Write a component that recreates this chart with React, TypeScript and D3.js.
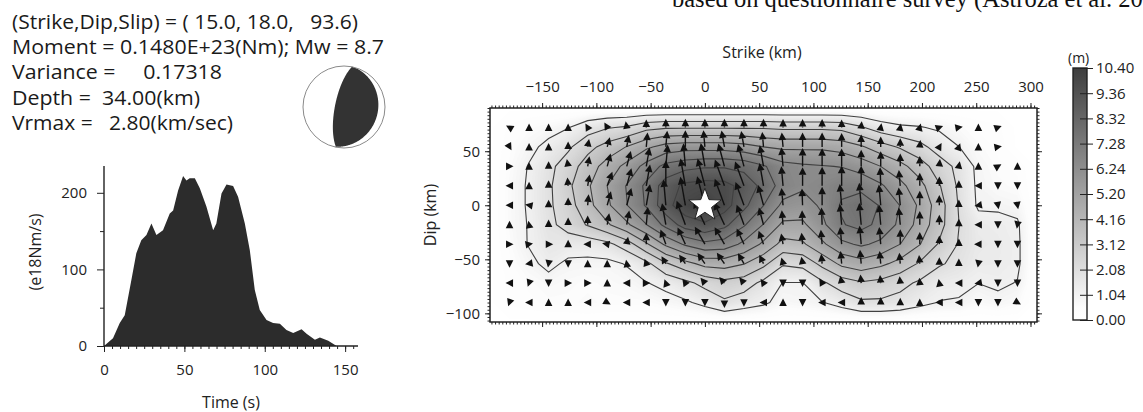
'use client'
import { useEffect, useRef } from 'react';
import * as d3 from 'd3';

// source summary
const faultAngles = [15.0, 18.0, 93.6]; // strike, dip, rake (deg)
const infoLines = [
  '(Strike,Dip,Slip) = ( 15.0, 18.0,   93.6)',
  'Moment = 0.1480E+23(Nm); Mw = 8.7',
  'Variance =     0.17318',
  'Depth =  34.00(km)',
  'Vrmax =   2.80(km/sec)',
];

// moment rate function
const stfTime = [0, 5.6, 9.8, 12.9, 17.0, 20.1, 23.2, 26.4, 29.5, 32.6, 36.7, 40.9, 43.0, 46.1, 49.2, 51.3, 53.3, 56.5, 59.6, 63.7, 67.9, 69.9, 73.1, 76.2, 80.3, 83.4, 87.6, 90.7, 93.8, 96.9, 101.1, 105.2, 109.4, 113.5, 117.7, 122.9, 126.0, 131.2, 134.3, 139.5, 144.7];
const stfRate = [0, 10, 30, 40, 86, 121, 138, 145, 160, 145, 151, 173, 177, 203, 222, 216, 219, 219, 206, 182, 151, 160, 199, 211, 209, 195, 160, 125, 73, 47, 34, 30, 29, 21, 17, 22, 16, 8, 11, 7, 0];
const stfTicks = [0, 50, 100, 150];
const rateTicks = [0, 100, 200];

// subfault centres (km)
const strikeKm = [-180, -162, -144, -126, -108, -90, -72, -54, -36, -18, 0, 18, 36, 54, 72, 90, 108, 126, 144, 162, 180, 198, 216, 234, 252, 270, 288];
const dipKm = [72, 54, 36, 18, 0, -18, -36, -54, -72, -90];
const hypocenter = [0, 0];

// slip (m), one row per dip level
const slipRows = [
  [0.3, 0.5, 0.7, 1.0, 1.6, 2.0, 2.2, 2.8, 3.0, 3.0, 3.0, 3.0, 3.0, 3.0, 2.9, 2.9, 2.9, 2.8, 2.2, 1.5, 1.2, 1.1, 0.9, 0.6, 0.4, 0.3, 0.0],
  [0.4, 0.8, 1.3, 1.9, 2.8, 3.5, 4.2, 5.0, 5.6, 5.8, 5.8, 5.8, 5.6, 5.2, 5.0, 5.0, 5.0, 4.8, 4.3, 3.6, 3.0, 2.4, 1.6, 1.05, 0.6, 0.4, 0.0],
  [0.5, 1.1, 1.8, 2.6, 3.6, 4.6, 5.5, 6.6, 7.6, 8.0, 8.2, 8.2, 8.0, 7.4, 6.6, 6.4, 6.3, 6.2, 5.8, 5.2, 4.5, 3.6, 2.6, 1.8, 0.8, 0.5, 0.4],
  [0.6, 1.15, 1.9, 2.9, 4.0, 5.2, 6.3, 7.5, 8.8, 9.6, 9.8, 9.7, 9.0, 8.0, 6.8, 6.4, 6.6, 7.0, 7.0, 6.4, 5.5, 4.5, 3.2, 1.9, 0.85, 0.6, 0.5],
  [0.6, 1.15, 1.9, 2.7, 3.8, 5.0, 6.2, 7.4, 9.0, 10.0, 10.4, 9.8, 8.6, 7.3, 6.0, 5.8, 6.4, 7.4, 7.8, 7.2, 6.2, 5.0, 3.6, 2.0, 0.9, 0.9, 0.8],
  [0.6, 1.1, 1.8, 2.5, 3.2, 4.0, 5.0, 6.2, 7.6, 8.8, 9.2, 8.6, 7.4, 6.2, 5.0, 5.0, 6.0, 7.2, 7.6, 7.0, 6.0, 4.8, 3.5, 2.1, 1.4, 1.3, 1.15],
  [0.5, 1.1, 1.6, 1.5, 1.5, 1.8, 2.6, 4.0, 5.4, 6.4, 7.0, 6.8, 6.0, 5.0, 3.8, 4.0, 5.0, 6.0, 6.4, 6.0, 5.2, 4.2, 3.0, 2.0, 1.5, 1.4, 1.2],
  [0.4, 0.8, 1.3, 0.85, 0.8, 0.8, 1.1, 1.8, 3.0, 3.8, 4.5, 4.6, 4.2, 3.4, 2.2, 2.4, 3.4, 4.4, 4.8, 4.4, 3.8, 3.0, 2.2, 1.8, 1.4, 1.35, 1.2],
  [0.3, 0.5, 0.7, 0.6, 0.5, 0.6, 0.7, 1.0, 1.3, 1.8, 2.4, 2.8, 2.6, 1.8, 1.0, 1.0, 1.9, 2.6, 3.0, 2.8, 2.4, 1.9, 1.4, 1.3, 1.05, 1.2, 1.0],
  [0.3, 0.4, 0.5, 0.5, 0.6, 0.5, 0.5, 0.5, 0.7, 0.9, 1.3, 1.9, 1.5, 1.2, 0.7, 0.8, 1.0, 1.4, 1.9, 1.9, 1.7, 1.3, 1.0, 0.95, 0.6, 0.8, 0.6],
];

// rake of each subfault (deg, 90 = up-dip)
const rakeRows = [
  [150, 90, 90, 90, 120, 120, 100, 90, 90, 90, 90, 90, 90, 90, 90, 90, 90, 90, 85, 80, 80, 75, 20, 10, 90, 20, 90],
  [300, 90, 90, 90, 80, 75, 80, 85, 85, 90, 95, 100, 100, 95, 95, 90, 90, 90, 90, 90, 90, 85, 60, 70, 90, 10, 90],
  [0, 90, 90, 100, 80, 75, 75, 80, 85, 95, 100, 105, 105, 100, 95, 90, 90, 90, 90, 90, 90, 90, 85, 80, 90, 30, 90],
  [180, 90, 90, 95, 80, 70, 75, 80, 90, 100, 105, 110, 110, 100, 95, 90, 90, 90, 90, 92, 95, 90, 90, 90, 180, 270, 270],
  [180, 170, 90, 90, 85, 75, 75, 80, 95, 100, 105, 110, 110, 105, 95, 92, 90, 95, 95, 95, 95, 90, 90, 90, 190, 280, 280],
  [90, 100, 90, 90, 90, 80, 80, 85, 100, 110, 115, 115, 110, 105, 95, 92, 92, 95, 95, 95, 95, 90, 90, 90, 180, 270, 260],
  [0, 10, 0, 90, 180, 170, 80, 90, 110, 115, 120, 120, 115, 110, 100, 95, 95, 95, 95, 95, 90, 90, 90, 90, 180, 270, 270],
  [270, 190, 260, 270, 90, 90, 100, 110, 120, 125, 125, 125, 120, 115, 105, 100, 95, 95, 95, 95, 95, 95, 90, 90, 260, 270, 270],
  [180, 250, 270, 0, 0, 90, 180, 0, 110, 125, 130, 130, 130, 125, 270, 270, 120, 100, 95, 95, 95, 95, 100, 180, 190, 270, 270],
  [250, 180, 90, 90, 180, 330, 180, 180, 270, 270, 270, 270, 270, 180, 90, 270, 180, 180, 90, 90, 90, 90, 180, 180, 270, 270, 330],
];

const strikeTicks = [-150, -100, -50, 0, 50, 100, 150, 200, 250, 300];
const dipTicks = [-100, -50, 0, 50];
const slipLevels = [0, 1.04, 2.08, 3.12, 4.16, 5.20, 6.24, 7.28, 8.32, 9.36, 10.40];

const FONT = "'Open Sans', 'DejaVu Sans', sans-serif";

const App = () => {
  const ref = useRef<SVGSVGElement>(null);

  useEffect(() => {
    const svg = d3.select(ref.current);
    svg.selectAll('*').remove();
    const defs = svg.append('defs');

    // header text, cut off at the top like the page it came from
    svg.append('text')
      .attr('x', 672).attr('y', 7)
      .attr('font-family', "'Liberation Serif', 'Times New Roman', serif")
      .attr('font-size', 24.5).attr('fill', '#111')
      .text('based on questionnaire survey (Astroza et al. 20');

    // info text
    const infoWidths = [346, 372, 210, 188, 221];
    infoLines.forEach((s, i) => {
      svg.append('text')
        .attr('x', 12).attr('y', 29 + i * 25.2)
        .attr('font-family', FONT).attr('font-size', 20).attr('fill', '#1a1a1a')
        .attr('textLength', infoWidths[i]).attr('lengthAdjust', 'spacingAndGlyphs')
        .style('white-space', 'pre')
        .text(s);
    });

    // beach ball from strike/dip/rake (lower hemisphere, equal area)
    const [stk, dp, rk] = faultAngles.map(v => v * Math.PI / 180);
    const nrm = [-Math.sin(dp) * Math.sin(stk), Math.sin(dp) * Math.cos(stk), -Math.cos(dp)];
    const slp = [
      Math.cos(rk) * Math.cos(stk) + Math.sin(rk) * Math.cos(dp) * Math.sin(stk),
      Math.cos(rk) * Math.sin(stk) - Math.sin(rk) * Math.cos(dp) * Math.cos(stk),
      -Math.sin(rk) * Math.sin(dp),
    ];
    const N = 151;
    const amp = new Array(N * N);
    for (let j = 0; j < N; j++) {
      for (let i = 0; i < N; i++) {
        const px = (i + 0.5) / N * 2 - 1;
        const py = 1 - (j + 0.5) / N * 2;
        const r = Math.min(Math.hypot(px, py), 1);
        const inc = 2 * Math.asin(r / Math.SQRT2);
        const az = Math.atan2(px, py);
        const g = [Math.sin(inc) * Math.cos(az), Math.sin(inc) * Math.sin(az), Math.cos(inc)];
        const a = nrm[0] * g[0] + nrm[1] * g[1] + nrm[2] * g[2];
        const b = slp[0] * g[0] + slp[1] * g[1] + slp[2] * g[2];
        amp[j * N + i] = 2 * a * b;
      }
    }
    const bx = 344, by = 107, br = 41;
    defs.append('clipPath').attr('id', 'ballclip')
      .append('circle').attr('cx', bx).attr('cy', by).attr('r', br);
    const ballPath = d3.geoPath(d3.geoTransform({
      point(x, y) { this.stream.point(bx - br + x / N * 2 * br, by - br + y / N * 2 * br); },
    }));
    const comp = d3.contours().size([N, N]).thresholds([0])(amp);
    svg.append('circle').attr('cx', bx).attr('cy', by).attr('r', br).attr('fill', '#fff');
    svg.append('g').attr('clip-path', 'url(#ballclip)')
      .selectAll('path').data(comp).join('path')
      .attr('d', ballPath).attr('fill', '#333');
    svg.append('circle').attr('cx', bx).attr('cy', by).attr('r', br)
      .attr('fill', 'none').attr('stroke', '#8a8a8a').attr('stroke-width', 1);

    // moment rate function
    const xT = d3.scaleLinear().domain([0, 158]).range([104, 358]);
    const yR = d3.scaleLinear().domain([0, 235]).range([346, 166]);
    const area = d3.area<number>()
      .x((_, i) => xT(stfTime[i]))
      .y0(yR(0))
      .y1(d => yR(d));
    svg.append('path').datum(stfRate).attr('d', area).attr('fill', '#2c2c2c');

    const styleAxis = (g) => {
      g.select('.domain').remove();
      g.selectAll('line').attr('stroke', '#222').attr('stroke-width', 1);
      g.selectAll('text').attr('font-family', FONT).attr('font-size', 15).attr('fill', '#222');
    };

    svg.append('g').attr('transform', `translate(0,${yR(0)})`)
      .call(d3.axisBottom(xT).tickValues(d3.range(0, 158, 5)).tickSize(3).tickFormat(() => ''))
      .call(styleAxis);
    svg.append('g').attr('transform', `translate(0,${yR(0)})`)
      .call(d3.axisBottom(xT).tickValues(stfTicks).tickSize(6).tickPadding(12).tickFormat(d3.format('d')))
      .call(styleAxis);
    svg.append('g').attr('transform', `translate(${xT(0)},0)`)
      .call(d3.axisLeft(yR).tickValues([50, 150]).tickSize(4).tickFormat(() => ''))
      .call(styleAxis);
    svg.append('g').attr('transform', `translate(${xT(0)},0)`)
      .call(d3.axisLeft(yR).tickValues(rateTicks).tickSize(7).tickPadding(10).tickFormat(d3.format('d')))
      .call(styleAxis);
    svg.append('line').attr('x1', xT(0)).attr('x2', xT(0)).attr('y1', yR(0)).attr('y2', yR(235))
      .attr('stroke', '#222').attr('stroke-width', 1.4);
    svg.append('line').attr('x1', xT(0)).attr('x2', xT(158)).attr('y1', yR(0)).attr('y2', yR(0))
      .attr('stroke', '#222').attr('stroke-width', 1.4);
    svg.append('text').attr('x', 231).attr('y', 408).attr('text-anchor', 'middle')
      .attr('font-family', FONT).attr('font-size', 16).attr('fill', '#222').text('Time (s)');
    svg.append('text').attr('transform', 'translate(41,252) rotate(-90)').attr('text-anchor', 'middle')
      .attr('font-family', FONT).attr('font-size', 16).attr('fill', '#222').text('(e18Nm/s)');

    // slip map
    const step = strikeKm[1] - strikeKm[0];
    const dstep = dipKm[0] - dipKm[1];
    const xMin = strikeKm[0] - step, xMax = strikeKm[strikeKm.length - 1] + step;
    const yMax = dipKm[0] + dstep, yMin = dipKm[dipKm.length - 1] - dstep;
    const xS = d3.scaleLinear().domain([xMin, xMax]).range([490, 1037]);
    const yS = d3.scaleLinear().domain([yMin, yMax]).range([322, 108]);

    const nx = strikeKm.length, ny = dipKm.length;
    const W = nx + 2, H = ny + 2;
    const grid = new Array(W * H).fill(0);
    slipRows.forEach((row, j) => row.forEach((v, i) => { grid[(j + 1) * W + i + 1] = v; }));
    const gridPath = d3.geoPath(d3.geoTransform({
      point(x, y) { this.stream.point(xS(xMin + step * (x - 0.5)), yS(yMax - dstep * (y - 0.5))); },
    }));

    const maxSlip = slipLevels[slipLevels.length - 1];
    const color = d3.scaleLinear<string>().domain([0, 0.5, maxSlip]).range(['#ffffff', '#fcfcfc', '#3e3e3e']);

    defs.append('clipPath').attr('id', 'mapclip')
      .append('rect').attr('x', xS(xMin)).attr('y', yS(yMax))
      .attr('width', xS(xMax) - xS(xMin)).attr('height', yS(yMin) - yS(yMax));

    const map = svg.append('g').attr('clip-path', 'url(#mapclip)');
    map.append('rect').attr('x', xS(xMin)).attr('y', yS(yMax))
      .attr('width', xS(xMax) - xS(xMin)).attr('height', yS(yMin) - yS(yMax)).attr('fill', '#fff');

    const shadeT = d3.range(0.05, maxSlip, 0.1);
    map.append('g').selectAll('path')
      .data(d3.contours().size([W, H]).thresholds(shadeT)(grid)).join('path')
      .attr('d', gridPath).attr('fill', d => color(d.value + 0.05));

    map.append('g').selectAll('path')
      .data(d3.contours().size([W, H]).thresholds(slipLevels.slice(1, -1))(grid)).join('path')
      .attr('d', gridPath).attr('fill', 'none').attr('stroke', '#404040').attr('stroke-width', 1.1);

    // slip vectors
    const lenS = d3.scaleLinear().domain([0, maxSlip]).range([0, 30]);
    const arrows = map.append('g');
    const hl = 7.5, hw = 3.8;
    slipRows.forEach((row, j) => row.forEach((v, i) => {
      if (v <= 0) return;
      const a = rakeRows[j][i] * Math.PI / 180;
      const ux = Math.cos(a), uy = -Math.sin(a);
      const cx = xS(strikeKm[i]), cy = yS(dipKm[j]);
      const L = Math.max(lenS(v), 4);
      const tx = cx + ux * L, ty = cy + uy * L;
      const bx2 = tx - ux * hl, by2 = ty - uy * hl;
      if (L > hl) {
        arrows.append('line').attr('x1', cx).attr('y1', cy).attr('x2', bx2).attr('y2', by2)
          .attr('stroke', '#111').attr('stroke-width', 1.4);
      }
      arrows.append('path')
        .attr('d', `M${tx},${ty}L${bx2 - uy * hw},${by2 + ux * hw}L${bx2 + uy * hw},${by2 - ux * hw}Z`)
        .attr('fill', '#111');
    }));

    // hypocentre star
    const sx = xS(hypocenter[0]), sy = yS(hypocenter[1]);
    const starPts = d3.range(10).map(k => {
      const rr = k % 2 === 0 ? 17 : 7;
      const ang = -Math.PI / 2 + k * Math.PI / 5;
      return [sx + rr * Math.cos(ang), sy + rr * Math.sin(ang)];
    });
    map.append('path').attr('d', 'M' + starPts.map(p => p.join(',')).join('L') + 'Z')
      .attr('fill', '#fff').attr('stroke', '#222').attr('stroke-width', 1);

    // frame and axes
    svg.append('rect').attr('x', xS(xMin)).attr('y', yS(yMax))
      .attr('width', xS(xMax) - xS(xMin)).attr('height', yS(yMin) - yS(yMax))
      .attr('fill', 'none').attr('stroke', '#222').attr('stroke-width', 1.5);

    const minorX = d3.range(-300, 310, 10 / 3).filter(v => v >= xMin && v <= xMax);
    const minorY = d3.range(-150, 100, 10 / 3).filter(v => v >= yMin && v <= yMax);
    const noLab = () => '';
    svg.append('g').attr('transform', `translate(0,${yS(yMax)})`)
      .call(d3.axisTop(xS).tickValues(minorX).tickSize(2.5).tickFormat(noLab)).call(styleAxis);
    svg.append('g').attr('transform', `translate(0,${yS(yMax)})`)
      .call(d3.axisTop(xS).tickValues(strikeTicks).tickSize(5).tickPadding(11)).call(styleAxis);
    svg.append('g').attr('transform', `translate(0,${yS(yMin)})`)
      .call(d3.axisBottom(xS).tickValues(minorX).tickSize(2.5).tickFormat(noLab)).call(styleAxis);
    svg.append('g').attr('transform', `translate(0,${yS(yMin)})`)
      .call(d3.axisBottom(xS).tickValues(strikeTicks).tickSize(5).tickFormat(noLab)).call(styleAxis);
    svg.append('g').attr('transform', `translate(${xS(xMin)},0)`)
      .call(d3.axisLeft(yS).tickValues(minorY).tickSize(2.5).tickFormat(noLab)).call(styleAxis);
    svg.append('g').attr('transform', `translate(${xS(xMin)},0)`)
      .call(d3.axisLeft(yS).tickValues(dipTicks).tickSize(5).tickPadding(5)).call(styleAxis);
    svg.append('g').attr('transform', `translate(${xS(xMax)},0)`)
      .call(d3.axisRight(yS).tickValues(minorY).tickSize(2.5).tickFormat(noLab)).call(styleAxis);
    svg.append('g').attr('transform', `translate(${xS(xMax)},0)`)
      .call(d3.axisRight(yS).tickValues(dipTicks).tickSize(5).tickFormat(noLab)).call(styleAxis);

    svg.append('text').attr('x', 762).attr('y', 58).attr('text-anchor', 'middle')
      .attr('font-family', FONT).attr('font-size', 16).attr('fill', '#222').text('Strike (km)');
    svg.append('text').attr('transform', 'translate(436,215) rotate(-90)').attr('text-anchor', 'middle')
      .attr('font-family', FONT).attr('font-size', 16).attr('fill', '#222').text('Dip (km)');

    // colour bar
    const cbX = 1073, cbW = 14;
    const cS = d3.scaleLinear().domain([0, maxSlip]).range([320, 68]);
    const grad = defs.append('linearGradient').attr('id', 'slipgrad')
      .attr('x1', 0).attr('y1', 1).attr('x2', 0).attr('y2', 0);
    d3.range(0, maxSlip + 0.01, 0.52).forEach(v => {
      grad.append('stop').attr('offset', v / maxSlip).attr('stop-color', color(v));
    });
    svg.append('rect').attr('x', cbX).attr('y', cS(maxSlip)).attr('width', cbW)
      .attr('height', cS(0) - cS(maxSlip)).attr('fill', 'url(#slipgrad)');
    const cbAxis = svg.append('g').attr('transform', `translate(${cbX + cbW},0)`)
      .call(d3.axisRight(cS).tickValues(slipLevels).tickSize(6).tickPadding(3).tickFormat(d3.format('.2f')))
      .call(styleAxis);
    cbAxis.selectAll('line').attr('x1', -7);
    svg.append('rect').attr('x', cbX).attr('y', cS(maxSlip)).attr('width', cbW)
      .attr('height', cS(0) - cS(maxSlip)).attr('fill', 'none').attr('stroke', '#222').attr('stroke-width', 1.4);
    svg.append('text').attr('x', 1068).attr('y', 63)
      .attr('font-family', FONT).attr('font-size', 14).attr('fill', '#222').text('(m)');
  }, []);

  return (
    <svg ref={ref} width={1143} height={412}
      style={{ position: 'absolute', left: 0, top: 0, background: '#fff' }} />
  );
};

export default App;
